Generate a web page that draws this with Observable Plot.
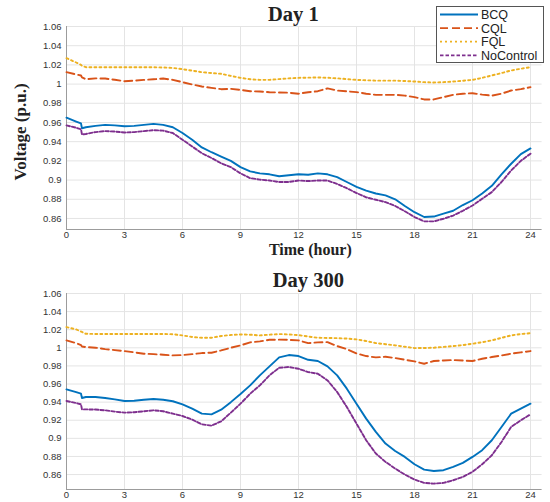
<!DOCTYPE html>
<html><head><meta charset="utf-8">
<script src="https://cdn.jsdelivr.net/npm/d3@7"></script>
<script src="https://cdn.jsdelivr.net/npm/@observablehq/plot@0.6"></script>
<style>
body{margin:0;background:#fff;}
#wrap{position:relative;width:550px;height:502px;overflow:hidden;background:#fff;}
#wrap > svg{display:block;}
#legend{position:absolute;left:436px;top:6px;}
</style></head><body><div id="wrap"></div>
<script>
// ---------- data ----------
const hours = [0,0.5,0.75,0.8,1,1.5,2,2.5,3,3.5,4,4.5,5,5.5,6,6.5,7,7.5,8,8.5,9,9.5,10,10.5,11,11.5,12,12.5,13,13.5,14,14.5,15,15.5,16,16.5,17,17.5,18,18.5,19,19.5,20,20.5,21,21.5,22,22.5,23,23.5,24];
const seriesNames = ["BCQ","CQL","FQL","NoControl"];
const seriesColors = ["#0072BD","#D95319","#EDB120","#7E2F8E"];
const seriesDash = ["none","8,4","2,3","3.5,2"];

const day1BCQ = [0.965,0.961,0.959,0.954,0.955,0.9565,0.9575,0.957,0.956,0.9565,0.9575,0.9585,0.9575,0.955,0.949,0.942,0.934,0.929,0.9245,0.920,0.9135,0.909,0.907,0.906,0.904,0.905,0.906,0.9055,0.907,0.906,0.903,0.898,0.893,0.889,0.886,0.884,0.880,0.873,0.8665,0.8615,0.862,0.865,0.868,0.874,0.879,0.886,0.894,0.906,0.917,0.927,0.933];
const day1CQL = [1.0124,1.010,1.009,1.007,1.005,1.006,1.0058,1.0045,1.003,1.0036,1.0044,1.005,1.0058,1.0044,1.002,0.9996,0.9975,0.996,0.9947,0.995,0.994,0.9926,0.9923,0.9915,0.9913,0.991,0.990,0.9915,0.9926,0.9955,0.9933,0.9925,0.9916,0.990,0.9888,0.9888,0.9888,0.988,0.9864,0.984,0.984,0.9864,0.9888,0.990,0.9905,0.989,0.988,0.990,0.9933,0.9947,0.9968];
const day1FQL = [1.027,1.0225,1.020,1.019,1.0176,1.0176,1.0176,1.0176,1.0176,1.0176,1.0176,1.0175,1.0173,1.0168,1.0155,1.014,1.0124,1.0115,1.0107,1.0085,1.0065,1.005,1.0044,1.0044,1.0052,1.006,1.0065,1.0067,1.0069,1.0066,1.006,1.0052,1.0044,1.004,1.0036,1.0036,1.0036,1.0032,1.0027,1.002,1.0017,1.002,1.0027,1.0035,1.0044,1.0065,1.009,1.0115,1.0142,1.016,1.0176];
const day1NoControl = [0.957,0.9545,0.953,0.9475,0.948,0.950,0.951,0.9505,0.9496,0.950,0.951,0.952,0.9515,0.949,0.942,0.935,0.928,0.923,0.9175,0.9135,0.907,0.902,0.9005,0.8995,0.898,0.898,0.8995,0.899,0.8995,0.8995,0.896,0.8915,0.8865,0.882,0.8795,0.877,0.873,0.8675,0.8615,0.857,0.857,0.8597,0.863,0.868,0.8735,0.8805,0.8875,0.898,0.910,0.920,0.9275];

const day300BCQ = [0.9541,0.951,0.9493,0.9446,0.9457,0.9457,0.9446,0.943,0.9413,0.9416,0.9427,0.9435,0.9427,0.941,0.9376,0.9328,0.9273,0.9265,0.9317,0.940,0.949,0.9585,0.9696,0.9795,0.9895,0.9920,0.9909,0.9868,0.9854,0.9795,0.9696,0.9549,0.9383,0.9218,0.9071,0.8942,0.8861,0.8795,0.8714,0.8655,0.864,0.8648,0.8685,0.8729,0.8795,0.8869,0.8979,0.9126,0.9273,0.9328,0.9383];
const day300CQL = [1.0082,1.0052,1.003,1.0015,1.0008,1.0001,0.9986,0.9975,0.9964,0.995,0.9935,0.993,0.9924,0.9916,0.992,0.993,0.9942,0.9946,0.9971,1.0001,1.0027,1.006,1.0071,1.0089,1.0090,1.0088,1.0082,1.0052,1.006,1.0063,1.0019,0.9986,0.9938,0.9909,0.9894,0.9901,0.9887,0.9868,0.985,0.9824,0.9854,0.986,0.9865,0.986,0.9854,0.9879,0.9898,0.9915,0.9935,0.995,0.9964];
const day300FQL = [1.0229,1.0203,1.018,1.0175,1.0155,1.0153,1.0153,1.0153,1.0153,1.0153,1.0153,1.0153,1.0153,1.015,1.0137,1.012,1.0111,1.0111,1.013,1.0142,1.0148,1.0145,1.0137,1.0145,1.0152,1.0148,1.014,1.0125,1.0111,1.0109,1.0107,1.0102,1.0093,1.0075,1.0052,1.004,1.0027,1.0012,0.9997,0.9998,1.0001,1.001,1.0019,1.003,1.0045,1.0062,1.0082,1.011,1.0137,1.0152,1.0162];
const day300NoControl = [0.9413,0.939,0.9376,0.932,0.932,0.9318,0.931,0.9295,0.9284,0.9288,0.9299,0.931,0.9299,0.9273,0.9247,0.9207,0.9155,0.914,0.9188,0.9284,0.9383,0.9493,0.9585,0.9696,0.978,0.9788,0.9769,0.9732,0.9714,0.964,0.9512,0.9346,0.9162,0.8979,0.8832,0.874,0.8666,0.860,0.8545,0.8508,0.850,0.8508,0.8537,0.8574,0.863,0.8714,0.8813,0.896,0.9126,0.920,0.9265];

const xTicks = [0,3,6,9,12,15,18,21,24];
const yTicks = [0.86,0.88,0.9,0.92,0.94,0.96,0.98,1,1.02,1.04,1.06];
const titles = ["Day 1","Day 300"];
const yLabel = "Voltage (p.u.)";
const xLabel = "Time (hour)";

// ---------- build ----------
function rowsFor(valuesList){
  return seriesNames.map((name,i)=>hours.map((h,j)=>({hour:h, v:valuesList[i][j], series:name})));
}

const serif = "'Liberation Serif','Times New Roman',serif";
const sans = "'Liberation Sans',Arial,Helvetica,sans-serif";

function chart({title, values, yDomain, height, marginTop, marginBottom, showLabels, titleDx, titleDy}){
  const data = rowsFor(values);
  const marks = [
    Plot.gridX({ticks:xTicks, stroke:"#e4e4e4", strokeOpacity:1}),
    Plot.gridY({ticks:yTicks, stroke:"#e4e4e4", strokeOpacity:1}),
    Plot.ruleX([xTicks[0]], {stroke:"#9c9c9c", strokeWidth:1}),
    Plot.ruleY([yDomain[0]], {stroke:"#9c9c9c", strokeWidth:1}),
    Plot.axisX({ticks:xTicks, tickSize:0, tickPadding:2, label:null, fill:"#333"}),
    Plot.axisY({ticks:yTicks, tickSize:0, tickPadding:5, label:null, fill:"#333", tickFormat:d=>String(+d.toFixed(2))}),
    ...data.map((rows,i)=>Plot.line(rows,{x:"hour", y:"v", stroke:seriesColors[i], strokeWidth:1.9, strokeDasharray:seriesDash[i]})),
    Plot.text([title],{frameAnchor:"top", dx:titleDx, dy:titleDy, lineAnchor:"middle", textAnchor:"middle", fontFamily:serif, fontSize:20.5, fontWeight:"bold", fill:"#222"})
  ];
  if(showLabels){
    marks.push(Plot.text([yLabel],{frameAnchor:"left", dx:-46, dy:4, rotate:-90, textAnchor:"middle", lineAnchor:"middle", fontFamily:serif, fontSize:17, fontWeight:"bold", fill:"#222"}));
    marks.push(Plot.text([xLabel],{frameAnchor:"bottom", dx:6, dy:20, textAnchor:"middle", lineAnchor:"middle", fontFamily:serif, fontSize:16, fontWeight:"bold", fill:"#222"}));
  }
  return Plot.plot({
    width:550, height, marginLeft:66, marginRight:8.4, marginTop, marginBottom,
    x:{domain:[0,24.6]},
    y:{domain:yDomain},
    style:{fontFamily:sans, fontSize:"9.5px", color:"#333", background:"transparent", overflow:"visible"},
    marks
  });
}

const wrap = document.getElementById("wrap");
wrap.appendChild(chart({title:titles[0], values:[day1BCQ,day1CQL,day1FQL,day1NoControl], yDomain:[0.8485,1.06], height:255, marginTop:26, marginBottom:26, showLabels:true, titleDx:-11, titleDy:-12}));
wrap.appendChild(chart({title:titles[1], values:[day300BCQ,day300CQL,day300FQL,day300NoControl], yDomain:[0.8435,1.06], height:247, marginTop:38, marginBottom:13, showLabels:false, titleDx:4, titleDy:-13}));

// legend
const lg = d3.select(wrap).append("svg").attr("id","legend").attr("width",108).attr("height",57);
lg.append("rect").attr("x",0.5).attr("y",0.5).attr("width",107).attr("height",56).attr("fill","white").attr("stroke","#555").attr("stroke-width",1);
seriesNames.forEach((name,i)=>{
  const y = 8.5 + i*13.6;
  lg.append("line").attr("x1",4).attr("x2",42).attr("y1",y).attr("y2",y)
    .attr("stroke",seriesColors[i]).attr("stroke-width",1.8).attr("stroke-dasharray",seriesDash[i]);
  lg.append("text").attr("x",45).attr("y",y).attr("dy","0.36em").attr("font-family",sans).attr("font-size",12.5).attr("fill","#222").text(name);
});
</script>
</body></html>
